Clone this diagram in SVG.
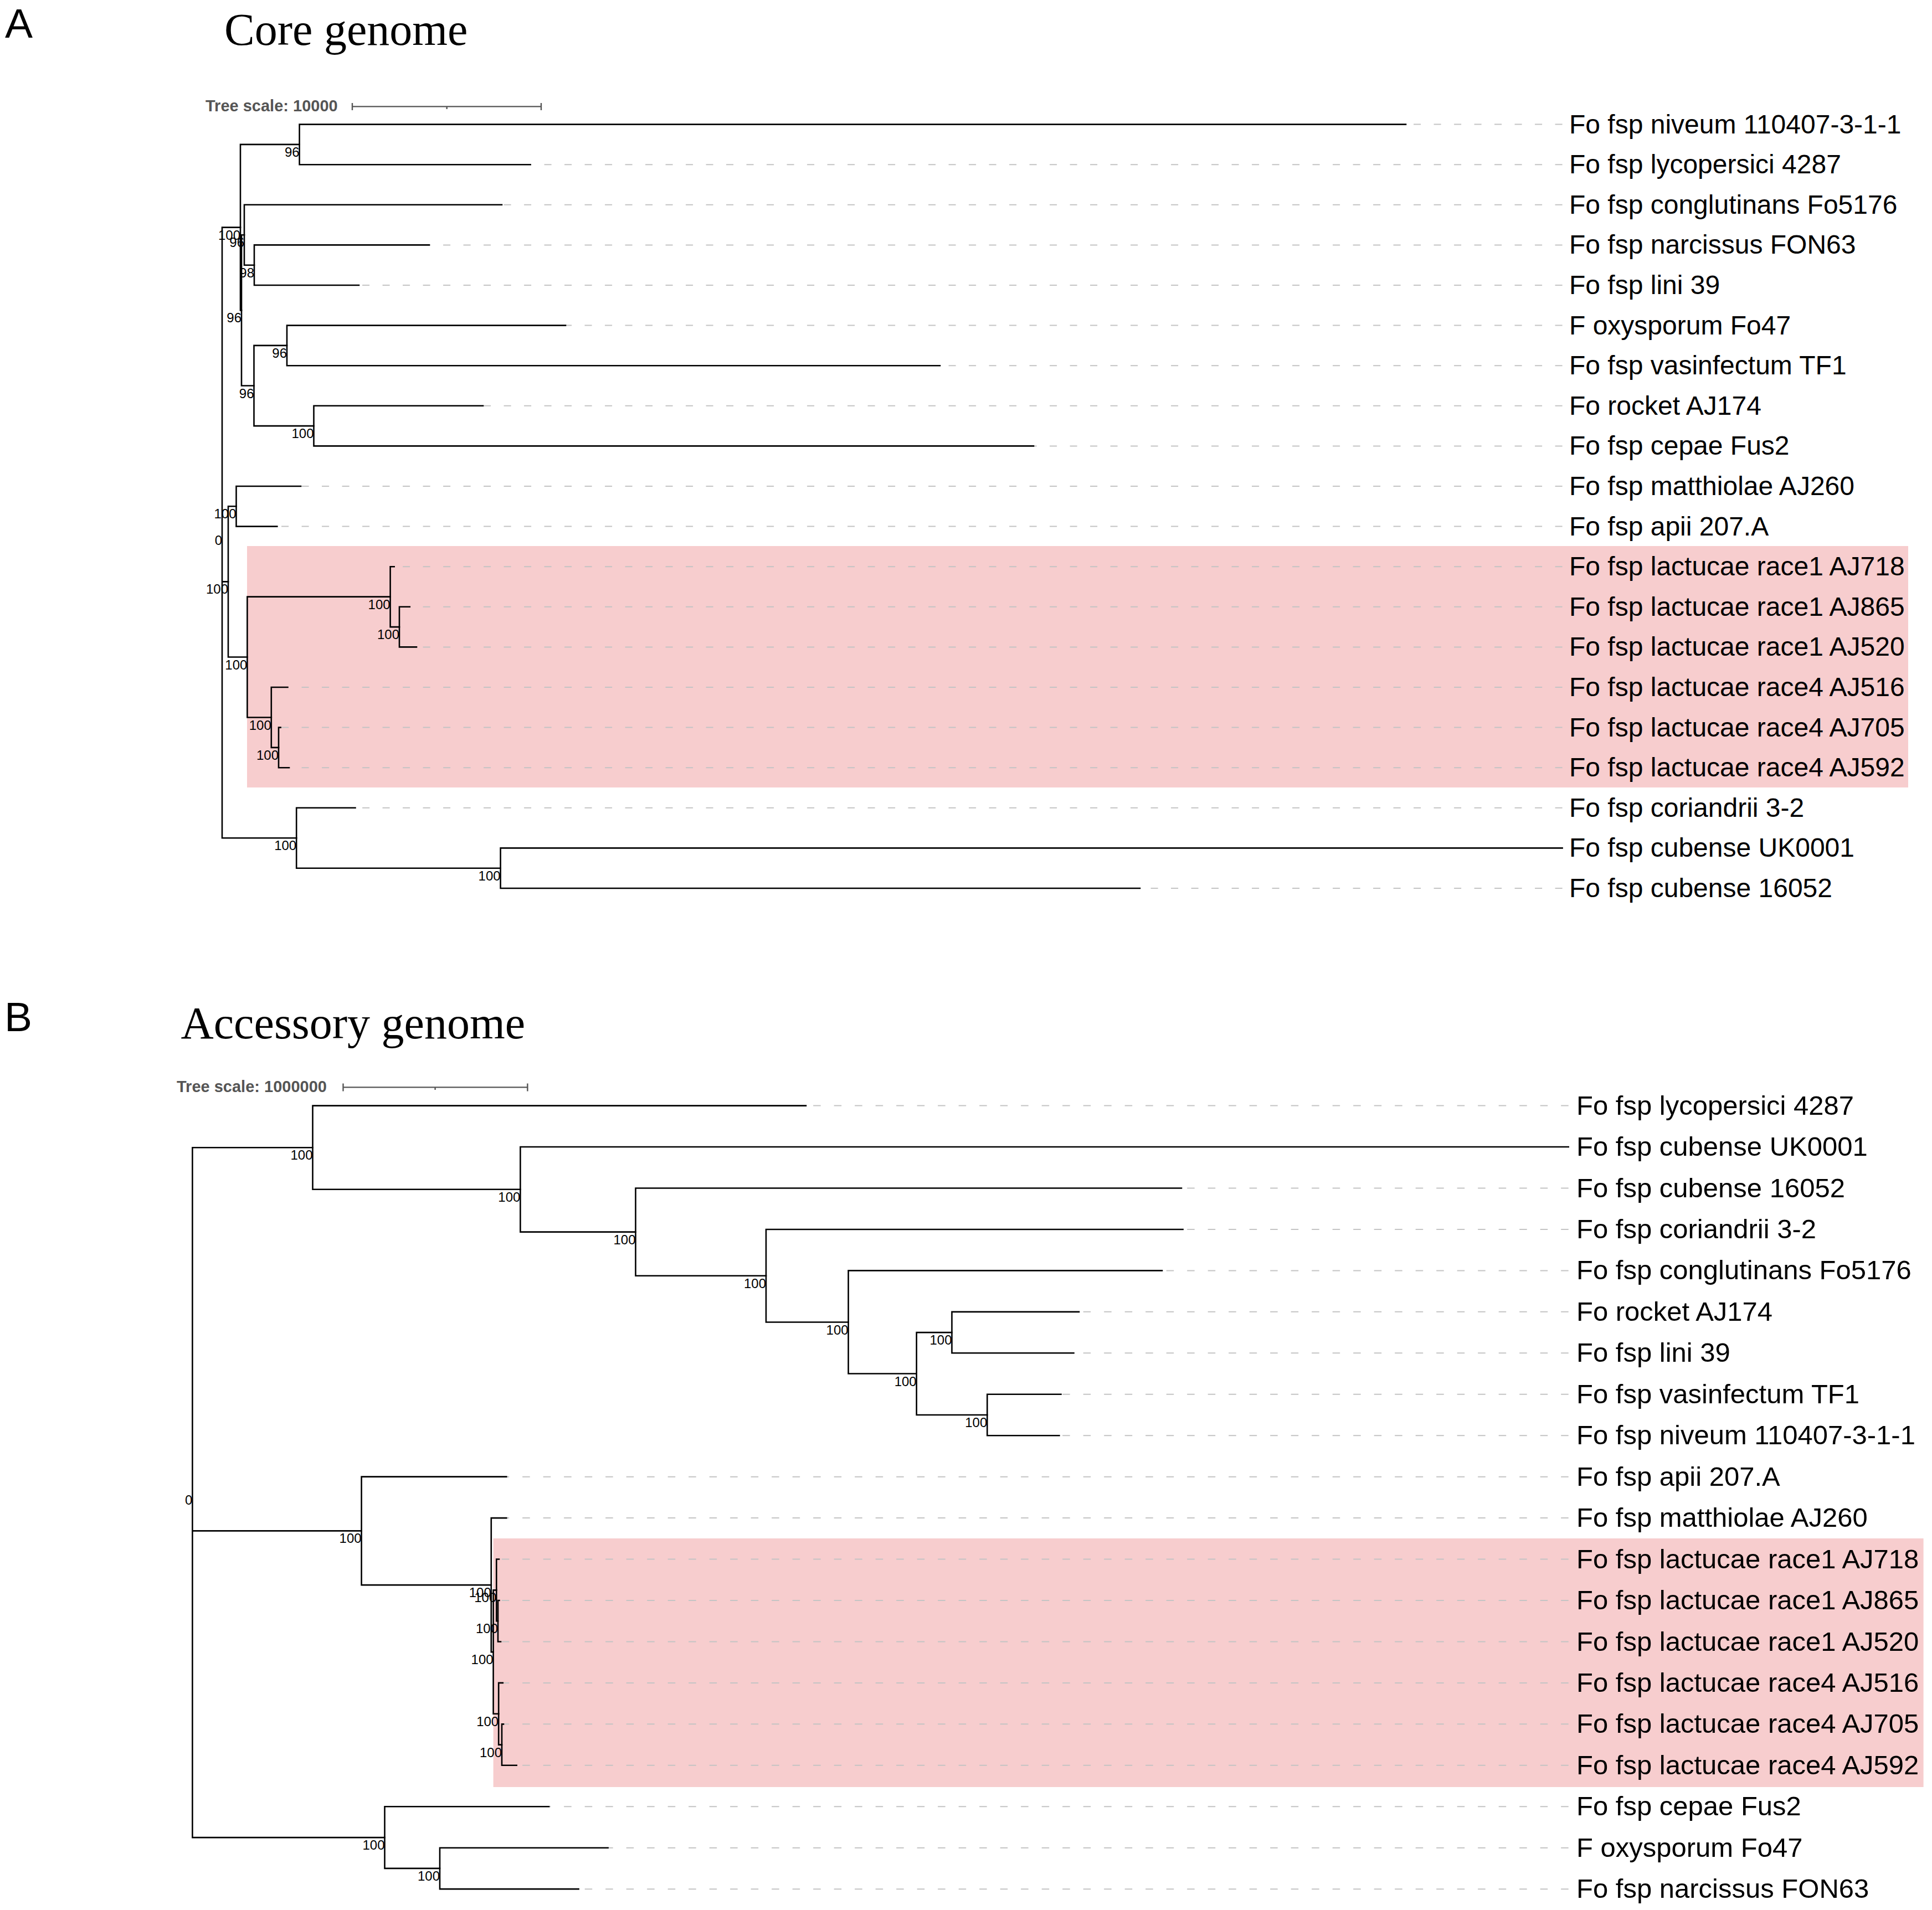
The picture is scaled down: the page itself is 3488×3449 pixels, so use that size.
<svg xmlns="http://www.w3.org/2000/svg" width="3488" height="3449" viewBox="0 0 3488 3449">
<style>
.bg{fill:#ffffff}
.hl{fill:#f7cdce}
.br{fill:none;stroke:#000;stroke-width:2.6;stroke-linejoin:miter;stroke-linecap:square}
.da{fill:none;stroke:#c4c4c4;stroke-width:2;stroke-dasharray:13 23.5}
.db{fill:none;stroke:#c4c4c4;stroke-width:2;stroke-dasharray:13.5 24}
.sb{fill:none;stroke:#555;stroke-width:2.4}
.lfa{font-family:"Liberation Sans",Arial,sans-serif;font-size:48px;fill:#000}
.lfb{font-family:"Liberation Sans",Arial,sans-serif;font-size:49px;fill:#000}
.bs{font-family:"Liberation Sans",Arial,sans-serif;font-size:24px;fill:#000;text-anchor:end}
.ttl{font-family:"Liberation Serif","Times New Roman",serif;font-size:82px;fill:#000}
.pan{font-family:"Liberation Sans",Arial,sans-serif;font-size:75px;fill:#000}
.sct{font-family:"Liberation Sans",Arial,sans-serif;font-size:29px;font-weight:bold;fill:#555}
</style>
<rect class="bg" x="0" y="0" width="3488" height="3449"/>

<!-- Panel A -->
<g id="panelA-header">
<text class="pan" x="9" y="68">A</text>
<text class="ttl" x="405" y="81">Core genome</text>
<text class="sct" x="371" y="201">Tree scale: 10000</text>
<path class="sb" d="M636 192.4H977M636 186V199M977 186V199M806.7 192.4V197"/>
</g>
<rect id="highlightA" class="hl" x="446" y="986" width="2999" height="436"/>

<g id="connectorsA">
<g id="dashesA">
<path class="da" d="M2820.6 224.6H2538"/>
<path class="da" d="M2820.6 297.2H957.6"/>
<path class="da" d="M2820.6 369.8H906"/>
<path class="da" d="M2820.6 442.4H775"/>
<path class="da" d="M2820.6 515H648"/>
<path class="da" d="M2820.6 587.6H1021"/>
<path class="da" d="M2820.6 660.2H1697"/>
<path class="da" d="M2820.6 732.8H872"/>
<path class="da" d="M2820.6 805.4H1866"/>
<path class="da" d="M2820.6 878H543"/>
<path class="da" d="M2820.6 950.6H500.3"/>
<path class="da" d="M2820.6 1023.2H711.7"/>
<path class="da" d="M2820.6 1095.8H739.8"/>
<path class="da" d="M2820.6 1168.4H752"/>
<path class="da" d="M2820.6 1241H519.4"/>
<path class="da" d="M2820.6 1313.6H506.6"/>
<path class="da" d="M2820.6 1386.2H522"/>
<path class="da" d="M2820.6 1458.8H641.5"/>
<path class="da" d="M2820.6 1604H2058"/>
</g>
<g id="branchesA">
<path class="br" d="M2538 224.6H540.6V297.2H957.6"/>
<path class="br" d="M775 442.4H459V515H648"/>
<path class="br" d="M906 369.8H441V478.7H459"/>
<path class="br" d="M1021 587.6H518V660.2H1697"/>
<path class="br" d="M872 732.8H566.5V805.4H1866"/>
<path class="br" d="M518 623.9H458.5V769.1H566.5"/>
<path class="br" d="M441 424.25H436V696.5H458.5"/>
<path class="br" d="M540.6 260.9H434V560.4H436"/>
<path class="br" d="M543 878H426.5V950.6H500.3"/>
<path class="br" d="M739.8 1095.8H721V1168.4H752"/>
<path class="br" d="M711.7 1023.2H704.6V1132.1H721"/>
<path class="br" d="M506.6 1313.6H503V1386.2H522"/>
<path class="br" d="M519.4 1241H489.8V1349.9H503"/>
<path class="br" d="M704.6 1077.65H446.4V1295.45H489.8"/>
<path class="br" d="M426.5 914.3H412V1186.55H446.4"/>
<path class="br" d="M2820.6 1531.4H903.6V1604H2058"/>
<path class="br" d="M641.5 1458.8H535.2V1567.7H903.6"/>
<path class="br" d="M434 410.6H401V1513.25H535.2M401 1050.4H412"/>
</g>
</g>

<g id="supportA">
<text class="bs" x="540.6" y="282.9">96</text>
<text class="bs" x="459" y="500.7">98</text>
<text class="bs" x="441" y="446.3">96</text>
<text class="bs" x="518" y="645.9">96</text>
<text class="bs" x="566.5" y="791.1">100</text>
<text class="bs" x="458.5" y="718.5">96</text>
<text class="bs" x="436" y="582.4">96</text>
<text class="bs" x="434" y="432.6">100</text>
<text class="bs" x="426.5" y="936.3">100</text>
<text class="bs" x="721" y="1154.1">100</text>
<text class="bs" x="704.6" y="1099.7">100</text>
<text class="bs" x="503" y="1371.9">100</text>
<text class="bs" x="489.8" y="1317.5">100</text>
<text class="bs" x="446.4" y="1208.6">100</text>
<text class="bs" x="412" y="1072.4">100</text>
<text class="bs" x="903.6" y="1589.7">100</text>
<text class="bs" x="535.2" y="1535.3">100</text>
<text class="bs" x="401" y="983.9">0</text>
</g>

<g id="leavesA">
<g id="A-niveum"><text class="lfa" x="2833" y="240.6">Fo fsp niveum 110407-3-1-1</text></g>
<g id="A-lycopersici"><text class="lfa" x="2833" y="313.2">Fo fsp lycopersici 4287</text></g>
<g id="A-conglutinans"><text class="lfa" x="2833" y="385.8">Fo fsp conglutinans Fo5176</text></g>
<g id="A-narcissus"><text class="lfa" x="2833" y="458.4">Fo fsp narcissus FON63</text></g>
<g id="A-lini"><text class="lfa" x="2833" y="531">Fo fsp lini 39</text></g>
<g id="A-Fo47"><text class="lfa" x="2833" y="603.6">F oxysporum Fo47</text></g>
<g id="A-vasinfectum"><text class="lfa" x="2833" y="676.2">Fo fsp vasinfectum TF1</text></g>
<g id="A-rocket"><text class="lfa" x="2833" y="748.8">Fo rocket AJ174</text></g>
<g id="A-cepae"><text class="lfa" x="2833" y="821.4">Fo fsp cepae Fus2</text></g>
<g id="A-matthiolae"><text class="lfa" x="2833" y="894">Fo fsp matthiolae AJ260</text></g>
<g id="A-apii"><text class="lfa" x="2833" y="966.6">Fo fsp apii 207.A</text></g>
<g id="A-AJ718"><text class="lfa" x="2833" y="1039.2">Fo fsp lactucae race1 AJ718</text></g>
<g id="A-AJ865"><text class="lfa" x="2833" y="1111.8">Fo fsp lactucae race1 AJ865</text></g>
<g id="A-AJ520"><text class="lfa" x="2833" y="1184.4">Fo fsp lactucae race1 AJ520</text></g>
<g id="A-AJ516"><text class="lfa" x="2833" y="1257">Fo fsp lactucae race4 AJ516</text></g>
<g id="A-AJ705"><text class="lfa" x="2833" y="1329.6">Fo fsp lactucae race4 AJ705</text></g>
<g id="A-AJ592"><text class="lfa" x="2833" y="1402.2">Fo fsp lactucae race4 AJ592</text></g>
<g id="A-coriandrii"><text class="lfa" x="2833" y="1474.8">Fo fsp coriandrii 3-2</text></g>
<g id="A-UK0001"><text class="lfa" x="2833" y="1547.4">Fo fsp cubense UK0001</text></g>
<g id="A-16052"><text class="lfa" x="2833" y="1620">Fo fsp cubense 16052</text></g>
</g>

<!-- Panel B -->
<g id="panelB-header">
<text class="pan" x="8" y="1862">B</text>
<text class="ttl" x="326.5" y="1875">Accessory genome</text>
<text class="sct" x="319" y="1972">Tree scale: 1000000</text>
<path class="sb" d="M619.5 1963.4H952.4M619.5 1956.5V1970.5M952.4 1956.5V1970.5M785.6 1963.4V1968"/>
</g>
<rect id="highlightB" class="hl" x="890.6" y="2778" width="2582" height="449"/>

<g id="connectorsB">
<g id="dashesB">
<path class="db" d="M2831.7 1996.6H1455"/>
<path class="db" d="M2831.7 2145.5H2133"/>
<path class="db" d="M2831.7 2219.95H2135.6"/>
<path class="db" d="M2831.7 2294.4H2098"/>
<path class="db" d="M2831.7 2368.85H1948"/>
<path class="db" d="M2831.7 2443.3H1938.5"/>
<path class="db" d="M2831.7 2517.75H1915.5"/>
<path class="db" d="M2831.7 2592.2H1912.4"/>
<path class="db" d="M2831.7 2666.65H914.3"/>
<path class="db" d="M2831.7 2741.1H914.3"/>
<path class="db" d="M2831.7 2815.55H901"/>
<path class="db" d="M2831.7 2890H901.5"/>
<path class="db" d="M2831.7 2964.45H904"/>
<path class="db" d="M2831.7 3038.9H907.8"/>
<path class="db" d="M2831.7 3113.35H909"/>
<path class="db" d="M2831.7 3187.8H932.7"/>
<path class="db" d="M2831.7 3262.25H991"/>
<path class="db" d="M2831.7 3336.7H1097.6"/>
<path class="db" d="M2831.7 3411.15H1044.6"/>
</g>
<g id="branchesB">
<path class="br" d="M1915.5 2517.75H1782.3V2592.2H1912.4"/>
<path class="br" d="M1948 2368.85H1718.5V2443.3H1938.5"/>
<path class="br" d="M1718.5 2406.08H1654.7V2554.98H1782.3"/>
<path class="br" d="M2098 2294.4H1531.6V2480.53H1654.7"/>
<path class="br" d="M2135.6 2219.95H1383V2387.47H1531.6"/>
<path class="br" d="M2133 2145.5H1147.5V2303.71H1383"/>
<path class="br" d="M2831.7 2071.05H939.4V2224.6H1147.5"/>
<path class="br" d="M1455 1996.6H564.5V2147.8H939.4"/>
<path class="br" d="M901.5 2890H899V2964.45H904"/>
<path class="br" d="M901 2815.55H896.3V2927.2H899"/>
<path class="br" d="M909 3113.35H906V3187.8H932.7"/>
<path class="br" d="M907.8 3038.9H900.2V3150.6H906"/>
<path class="br" d="M896.3 2871.4H890.6V3094.75H900.2"/>
<path class="br" d="M914.3 2741.1H886.8V2983.1H890.6"/>
<path class="br" d="M914.3 2666.65H652.6V2862.1H886.8"/>
<path class="br" d="M1097.6 3336.7H794V3411.15H1044.6"/>
<path class="br" d="M991 3262.25H694.5V3373.9H794"/>
<path class="br" d="M564.5 2072.2H347.4V3318.1H694.5M347.4 2764.4H652.6"/>
</g>
</g>

<g id="supportB">
<text class="bs" x="1782.3" y="2577">100</text>
<text class="bs" x="1718.5" y="2428.1">100</text>
<text class="bs" x="1654.7" y="2502.5">100</text>
<text class="bs" x="1531.6" y="2409.5">100</text>
<text class="bs" x="1383" y="2325.7">100</text>
<text class="bs" x="1147.5" y="2246.6">100</text>
<text class="bs" x="939.4" y="2169.8">100</text>
<text class="bs" x="564.5" y="2094.2">100</text>
<text class="bs" x="899" y="2949.2">100</text>
<text class="bs" x="896.3" y="2893.4">100</text>
<text class="bs" x="906" y="3172.6">100</text>
<text class="bs" x="900.2" y="3116.8">100</text>
<text class="bs" x="890.6" y="3005.1">100</text>
<text class="bs" x="886.8" y="2884.1">100</text>
<text class="bs" x="652.6" y="2786.4">100</text>
<text class="bs" x="794" y="3395.9">100</text>
<text class="bs" x="694.5" y="3340.1">100</text>
<text class="bs" x="347.4" y="2717.1">0</text>
</g>

<g id="leavesB">
<g id="B-lycopersici"><text class="lfb" x="2846" y="2012.6">Fo fsp lycopersici 4287</text></g>
<g id="B-UK0001"><text class="lfb" x="2846" y="2087.1">Fo fsp cubense UK0001</text></g>
<g id="B-16052"><text class="lfb" x="2846" y="2161.5">Fo fsp cubense 16052</text></g>
<g id="B-coriandrii"><text class="lfb" x="2846" y="2236">Fo fsp coriandrii 3-2</text></g>
<g id="B-conglutinans"><text class="lfb" x="2846" y="2310.4">Fo fsp conglutinans Fo5176</text></g>
<g id="B-rocket"><text class="lfb" x="2846" y="2384.9">Fo rocket AJ174</text></g>
<g id="B-lini"><text class="lfb" x="2846" y="2459.3">Fo fsp lini 39</text></g>
<g id="B-vasinfectum"><text class="lfb" x="2846" y="2533.8">Fo fsp vasinfectum TF1</text></g>
<g id="B-niveum"><text class="lfb" x="2846" y="2608.2">Fo fsp niveum 110407-3-1-1</text></g>
<g id="B-apii"><text class="lfb" x="2846" y="2682.7">Fo fsp apii 207.A</text></g>
<g id="B-matthiolae"><text class="lfb" x="2846" y="2757.1">Fo fsp matthiolae AJ260</text></g>
<g id="B-AJ718"><text class="lfb" x="2846" y="2831.6">Fo fsp lactucae race1 AJ718</text></g>
<g id="B-AJ865"><text class="lfb" x="2846" y="2906">Fo fsp lactucae race1 AJ865</text></g>
<g id="B-AJ520"><text class="lfb" x="2846" y="2980.5">Fo fsp lactucae race1 AJ520</text></g>
<g id="B-AJ516"><text class="lfb" x="2846" y="3054.9">Fo fsp lactucae race4 AJ516</text></g>
<g id="B-AJ705"><text class="lfb" x="2846" y="3129.4">Fo fsp lactucae race4 AJ705</text></g>
<g id="B-AJ592"><text class="lfb" x="2846" y="3203.8">Fo fsp lactucae race4 AJ592</text></g>
<g id="B-cepae"><text class="lfb" x="2846" y="3278.3">Fo fsp cepae Fus2</text></g>
<g id="B-Fo47"><text class="lfb" x="2846" y="3352.7">F oxysporum Fo47</text></g>
<g id="B-narcissus"><text class="lfb" x="2846" y="3427.2">Fo fsp narcissus FON63</text></g>
</g>
</svg>
